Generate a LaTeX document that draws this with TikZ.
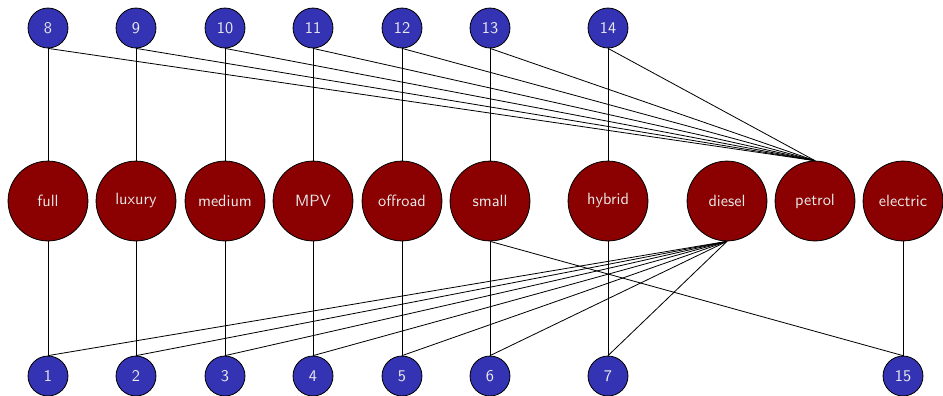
\documentclass[tikz,border=0pt]{standalone}
\usepackage{tikz}
\definecolor{catred}{RGB}{139,0,0}
\definecolor{idblue}{RGB}{51,51,179}
\begin{document}
\begin{tikzpicture}[x=0.6135pt,y=-0.6135pt,
  cat/.style={circle,draw=black,line width=0.5pt,fill=catred,text=white!92!black,font=\sffamily,minimum size=49pt,inner sep=0pt},
  idn/.style={circle,draw=black,line width=0.5pt,fill=idblue,text=white!92!black,font=\sffamily,minimum size=24.5pt,inner sep=0pt},
  link/.style={draw=black,line width=0.5pt}]
\useasboundingbox (0,0) rectangle (943,395);
% category nodes
\node[cat] (full) at (48,201) {full};
\node[cat] (luxury) at (136,201) {luxury};
\node[cat] (medium) at (225,201) {medium};
\node[cat] (mpv) at (313,201) {MPV};
\node[cat] (offroad) at (402,201) {offroad};
\node[cat] (small) at (490,201) {small};
\node[cat] (hybrid) at (608,201) {hybrid};
\node[cat] (diesel) at (727,201) {diesel};
\node[cat] (petrol) at (815,201) {petrol};
\node[cat] (electric) at (903,201) {electric};
% top row
\node[idn] (n8) at (48,28) {8};
\node[idn] (n9) at (136,28) {9};
\node[idn] (n10) at (225,28) {10};
\node[idn] (n11) at (313,28) {11};
\node[idn] (n12) at (402,28) {12};
\node[idn] (n13) at (490,28) {13};
\node[idn] (n14) at (608,28) {14};
% bottom row
\node[idn] (n1) at (48,376) {1};
\node[idn] (n2) at (136,376) {2};
\node[idn] (n3) at (225,376) {3};
\node[idn] (n4) at (313,376) {4};
\node[idn] (n5) at (402,376) {5};
\node[idn] (n6) at (490,376) {6};
\node[idn] (n7) at (608,376) {7};
\node[idn] (n15) at (903,376) {15};
% top links
\foreach \a/\b in {n8/full,n9/luxury,n10/medium,n11/mpv,n12/offroad,n13/small,n14/hybrid}{
  \draw[link] (\a.south) -- (\b.north);
  \draw[link] (\a.south) -- (petrol.north);
}
% bottom links
\foreach \a/\b in {n1/full,n2/luxury,n3/medium,n4/mpv,n5/offroad,n6/small,n7/hybrid}{
  \draw[link] (\a.north) -- (\b.south);
  \draw[link] (\a.north) -- (diesel.south);
}
\draw[link] (n15.north) -- (electric.south);
\draw[link] (n15.north) -- (small.south);
\end{tikzpicture}
\end{document}
